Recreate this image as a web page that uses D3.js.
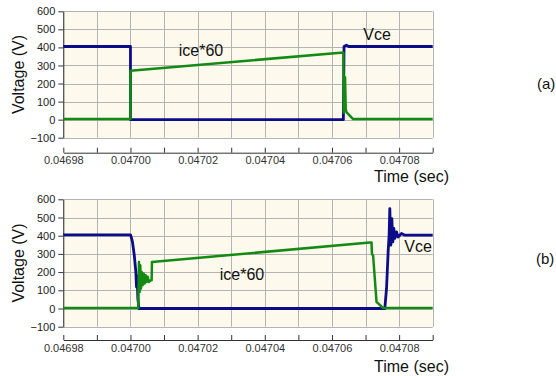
<!DOCTYPE html>
<html>
<head>
<meta charset="utf-8">
<script src="https://cdn.jsdelivr.net/npm/d3@7"></script>
<style>
  body { margin: 0; background: #fff; }
  svg { display: block; font-family: "Liberation Sans", Arial, sans-serif; }
</style>
</head>
<body>
<svg id="chart" width="556" height="376"></svg>
<script>
// time axis
var xTicks = [0.04698, 0.04699, 0.04700, 0.04701, 0.04702, 0.04703, 0.04704, 0.04705, 0.04706, 0.04707, 0.04708, 0.04709];
var xTickLabels = ["0.04698", "", "0.04700", "", "0.04702", "", "0.04704", "", "0.04706", "", "0.04708", ""];
var yTicks = [-100, 0, 100, 200, 300, 400, 500, 600];

// panel (a)
var vceA_t = [0.04698, 0.04700, 0.04700, 0.0470634, 0.0470636, 0.0470643, 0.0470650, 0.04709];
var vceA_v = [405, 405, 0, 0, 405, 412, 405, 405];
var iceA_t = [0.04698, 0.04700, 0.04700, 0.0470634, 0.0470635, 0.0470639, 0.0470641, 0.0470643, 0.0470663, 0.04709];
var iceA_v = [3, 3, 271, 372, 40, 235, 60, 42, 3, 3];

// panel (b)
var vceB_t = [0.04698, 0.04700, 0.0470002, 0.0470006, 0.04700113, 0.0470016, 0.0470018, 0.0470020, 0.0470022, 0.04700253,
  0.04707574, 0.04707625, 0.04707673, 0.04707702, 0.04707723, 0.04707753, 0.04707783, 0.04707813, 0.04707842, 0.04707872,
  0.04707923, 0.0470797, 0.04708071, 0.0470817, 0.04709];
var vceB_v = [405, 405, 395, 366, 293, 201, 119, 180, 55, 0,
  0, 110, 311, 403, 549, 348, 494, 366, 440, 385,
  421, 393, 412, 403, 403];
var iceB_t = [0.04698, 0.04700232, 0.04700253, 0.04700274, 0.04700292, 0.04700313, 0.04700333, 0.04700363, 0.04700393, 0.04700423,
  0.04700452, 0.04700482, 0.04700512, 0.04700551, 0.04700601, 0.04700631, 0.0470064, 0.04707128, 0.04707179, 0.0470719,
  0.04707226, 0.04707327, 0.04707524, 0.04709];
var iceB_v = [3, 3, 256, 91, 238, 110, 201, 128, 192, 137,
  183, 146, 174, 146, 155, 155, 256, 362, 362, 302,
  290, 36, 3, 3];

var panels = [
  { top: 11.3, bottom: 137.7, axisY: 152.7, titleY: 182, vt: vceA_t, vv: vceA_v, it: iceA_t, iv: iceA_v,
    iceLbl: [201, 56], vceLbl: [377, 40], tag: "(a)", tagPos: [537, 89] },
  { top: 199.3, bottom: 326.7, axisY: 340, titleY: 372, vt: vceB_t, vv: vceB_v, it: iceB_t, iv: iceB_v,
    iceLbl: [242, 280], vceLbl: [418, 252], tag: "(b)", tagPos: [536, 264] }
];

var svg = d3.select("#chart");
var x = d3.scaleLinear().domain([0.04698, 0.04709]).range([63.3, 432.7]);

panels.forEach(function (p) {
  var y = d3.scaleLinear().domain([-100, 600]).range([p.bottom, p.top]);
  var g = svg.append("g");

  g.append("rect")
    .attr("x", x(0.04698)).attr("y", y(600))
    .attr("width", x(0.04709) - x(0.04698)).attr("height", y(-100) - y(600))
    .attr("fill", "#fdf9ec");

  g.selectAll(".vg").data(xTicks).enter().append("line")
    .attr("x1", function (d) { return Math.round(x(d)) + 0.5; })
    .attr("x2", function (d) { return Math.round(x(d)) + 0.5; })
    .attr("y1", y(600)).attr("y2", y(-100))
    .attr("stroke", "#b4b4b4").attr("stroke-width", 1);

  g.selectAll(".hg").data(yTicks).enter().append("line")
    .attr("x1", x(0.04698)).attr("x2", x(0.04709))
    .attr("y1", function (d) { return Math.round(y(d)) + 0.5; })
    .attr("y2", function (d) { return Math.round(y(d)) + 0.5; })
    .attr("stroke", "#b4b4b4").attr("stroke-width", 1);

  // y axis
  var ya = g.append("g")
    .attr("transform", "translate(" + x(0.04698) + ",0)")
    .call(d3.axisLeft(y).tickValues(yTicks).tickSize(5).tickSizeOuter(0).tickPadding(3));
  ya.select(".domain").attr("stroke", "#333");
  ya.selectAll(".tick line").attr("stroke", "#333");
  ya.selectAll("text").attr("font-size", "11px").attr("fill", "#222")
    .attr("font-family", "Liberation Sans, Arial, sans-serif");

  // x axis, ticks pointing up
  var xa = g.append("g")
    .attr("transform", "translate(0," + p.axisY + ")")
    .call(d3.axisBottom(x).tickValues(xTicks).tickSizeInner(-5).tickSizeOuter(0).tickPadding(4)
      .tickFormat(function (d, i) { return xTickLabels[i]; }));
  xa.select(".domain").attr("stroke", "#333");
  xa.selectAll(".tick line").attr("stroke", "#333");
  xa.selectAll("text").attr("font-size", "11px").attr("fill", "#333")
    .attr("font-family", "Liberation Sans, Arial, sans-serif");

  var line = d3.line()
    .x(function (d) { return x(d[0]); })
    .y(function (d) { return y(d[1]); });

  g.append("path")
    .datum(d3.zip(p.vt, p.vv))
    .attr("d", line)
    .attr("fill", "none").attr("stroke", "#0c0c88").attr("stroke-width", 2.8)
    .attr("stroke-linejoin", "round");

  g.append("path")
    .datum(d3.zip(p.it, p.iv))
    .attr("d", line)
    .attr("fill", "none").attr("stroke", "#138b13").attr("stroke-width", 2.5)
    .attr("stroke-linejoin", "round");

  g.append("text").attr("x", p.iceLbl[0]).attr("y", p.iceLbl[1])
    .attr("text-anchor", "middle").attr("font-size", "16px").attr("fill", "#111").text("ice*60");
  g.append("text").attr("x", p.vceLbl[0]).attr("y", p.vceLbl[1])
    .attr("text-anchor", "middle").attr("font-size", "16px").attr("fill", "#111").text("Vce");

  g.append("text")
    .attr("transform", "translate(24," + (p.top + p.bottom) / 2 + ") rotate(-90)")
    .attr("text-anchor", "middle").attr("font-size", "16px").attr("fill", "#111").text("Voltage (V)");

  g.append("text").attr("x", 449).attr("y", p.titleY)
    .attr("text-anchor", "end").attr("font-size", "16px").attr("fill", "#111").text("Time (sec)");

  g.append("text").attr("x", p.tagPos[0]).attr("y", p.tagPos[1])
    .attr("font-size", "15px").attr("fill", "#111").text(p.tag);
});
</script>
</body>
</html>
